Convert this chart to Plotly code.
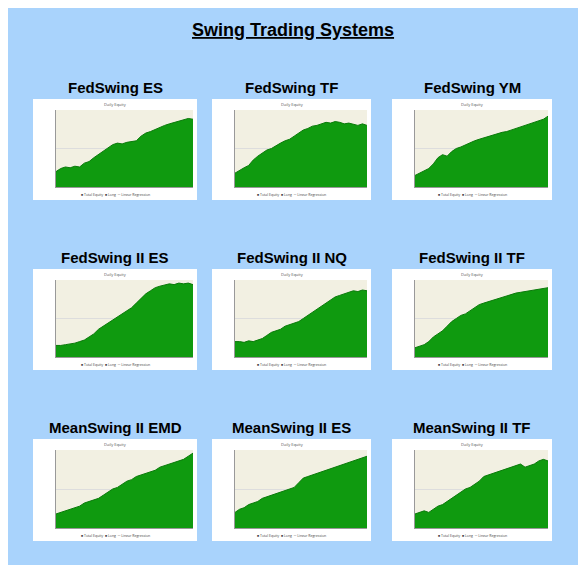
import plotly.graph_objects as go

# the page has an 8px body margin, so draw a slightly smaller figure
OFF = 8
W, H = 586 - 2 * OFF, 573 - 2 * OFF
titles = ["FedSwing ES", "FedSwing TF", "FedSwing YM",
          "FedSwing II ES", "FedSwing II NQ", "FedSwing II TF",
          "MeanSwing II EMD", "MeanSwing II ES", "MeanSwing II TF"]

# equity curves, fraction of chart height (read by eye)
eq_es = [0.20, 0.24, 0.26, 0.25, 0.27, 0.26, 0.31, 0.33, 0.38, 0.42, 0.46, 0.50, 0.55, 0.57, 0.56, 0.58, 0.59, 0.60, 0.66, 0.70, 0.72, 0.75, 0.77, 0.80, 0.82, 0.84, 0.85, 0.87, 0.89, 0.88]
eq_tf = [0.18, 0.22, 0.25, 0.28, 0.35, 0.40, 0.44, 0.48, 0.50, 0.54, 0.57, 0.60, 0.62, 0.66, 0.70, 0.74, 0.76, 0.79, 0.80, 0.82, 0.84, 0.83, 0.85, 0.84, 0.82, 0.83, 0.81, 0.80, 0.82, 0.80]
eq_ym = [0.15, 0.18, 0.20, 0.24, 0.30, 0.38, 0.42, 0.40, 0.46, 0.50, 0.52, 0.55, 0.58, 0.60, 0.62, 0.64, 0.66, 0.68, 0.70, 0.71, 0.72, 0.74, 0.76, 0.78, 0.80, 0.82, 0.84, 0.86, 0.88, 0.92]
eq_es2 = [0.15, 0.15, 0.16, 0.17, 0.18, 0.20, 0.22, 0.26, 0.30, 0.36, 0.40, 0.44, 0.48, 0.52, 0.56, 0.60, 0.64, 0.70, 0.76, 0.82, 0.86, 0.90, 0.92, 0.94, 0.95, 0.94, 0.96, 0.95, 0.96, 0.94]
eq_nq = [0.20, 0.20, 0.19, 0.21, 0.20, 0.22, 0.24, 0.28, 0.32, 0.34, 0.36, 0.40, 0.42, 0.44, 0.46, 0.50, 0.54, 0.58, 0.62, 0.66, 0.70, 0.74, 0.78, 0.80, 0.82, 0.84, 0.86, 0.85, 0.87, 0.86]
eq_tf2 = [0.12, 0.14, 0.16, 0.20, 0.26, 0.30, 0.34, 0.40, 0.46, 0.50, 0.54, 0.56, 0.60, 0.64, 0.68, 0.70, 0.72, 0.74, 0.76, 0.78, 0.80, 0.82, 0.83, 0.84, 0.85, 0.86, 0.87, 0.88, 0.89, 0.90]
eq_emd = [0.18, 0.20, 0.22, 0.24, 0.26, 0.28, 0.32, 0.34, 0.36, 0.38, 0.42, 0.46, 0.50, 0.52, 0.56, 0.60, 0.62, 0.66, 0.68, 0.70, 0.72, 0.74, 0.78, 0.80, 0.82, 0.84, 0.86, 0.88, 0.92, 0.96]
eq_es3 = [0.20, 0.24, 0.26, 0.30, 0.32, 0.34, 0.38, 0.40, 0.42, 0.44, 0.46, 0.48, 0.50, 0.52, 0.58, 0.64, 0.66, 0.68, 0.70, 0.72, 0.74, 0.76, 0.78, 0.80, 0.82, 0.84, 0.86, 0.88, 0.90, 0.92]
eq_tf3 = [0.18, 0.20, 0.22, 0.20, 0.24, 0.28, 0.30, 0.34, 0.38, 0.42, 0.46, 0.50, 0.52, 0.56, 0.60, 0.66, 0.68, 0.70, 0.72, 0.74, 0.76, 0.78, 0.80, 0.82, 0.78, 0.80, 0.82, 0.86, 0.88, 0.86]
curves = [eq_es, eq_tf, eq_ym, eq_es2, eq_nq, eq_tf2, eq_emd, eq_es3, eq_tf3]

col_px = [(33, 197), (212, 371), (392, 552)]
row_px = [(99, 200), (269, 370), (439, 541)]


def px(v):
    return (v - OFF) / W


def py(v):
    return 1 - (v - OFF) / H


def note(text, x, y, size, color="black", family=None):
    f = dict(size=size, color=color)
    if family:
        f["family"] = family
    return dict(text=text, xref="paper", yref="paper", x=x, y=y, showarrow=False,
                xanchor="center", yanchor="middle", font=f)


fig = go.Figure()
shapes, annotations = [], []
layout = {}
for i, (name, y) in enumerate(zip(titles, curves)):
    r, c = divmod(i, 3)
    x0, x1 = col_px[c]
    y0, y1 = row_px[r]
    cx = px((x0 + x1) / 2)
    shapes.append(dict(type="rect", xref="paper", yref="paper",
                       x0=px(x0), x1=px(x1), y0=py(y1), y1=py(y0),
                       fillcolor="white", line=dict(width=0), layer="below"))
    annotations.append(note("<b>" + name + "</b>", cx, py(y0 - 12), 15, family="Liberation Sans"))
    annotations.append(note("Daily Equity", cx, py(y0 + 5), 4, "#555"))
    annotations.append(note("■ Total Equity  ■ Long  ─ Linear Regression", cx, py(y1 - 6), 3.5, "#444"))
    k = "" if i == 0 else str(i + 1)
    layout["xaxis" + k] = dict(domain=[px(x0 + 23), px(x1 - 4)], showticklabels=False,
                               showgrid=False, zeroline=False, range=[0, len(y) - 1],
                               showline=True, linecolor="#999", linewidth=0.5, anchor="y" + k)
    layout["yaxis" + k] = dict(domain=[py(y1 - 13), py(y0 + 11)], showticklabels=False,
                               showgrid=True, gridcolor="#ddd", gridwidth=0.5, zeroline=False,
                               range=[0, 1], showline=True, linecolor="#999", linewidth=0.5,
                               anchor="x" + k)
    shapes.append(dict(type="rect", xref="x" + k + " domain", yref="y" + k + " domain",
                       x0=0, x1=1, y0=0, y1=1, fillcolor="#f2f0e2", line=dict(width=0),
                       layer="below"))
    fig.add_trace(go.Scatter(x=list(range(len(y))), y=y, xaxis="x" + k, yaxis="y" + k,
                             mode="lines", fill="tozeroy", fillcolor="#0f9a0f",
                             line=dict(color="#0a7a0a", width=1), showlegend=False,
                             hoverinfo="skip"))

annotations.append(note("<b><u>Swing Trading Systems</u></b>", 0.5, py(30), 18,
                        family="Liberation Sans"))

fig.update_layout(width=W, height=H, margin=dict(l=0, r=0, t=0, b=0),
                  paper_bgcolor="#a9d3fc", plot_bgcolor="rgba(0,0,0,0)",
                  shapes=shapes, annotations=annotations, **layout)
fig.write_html("out.html")
